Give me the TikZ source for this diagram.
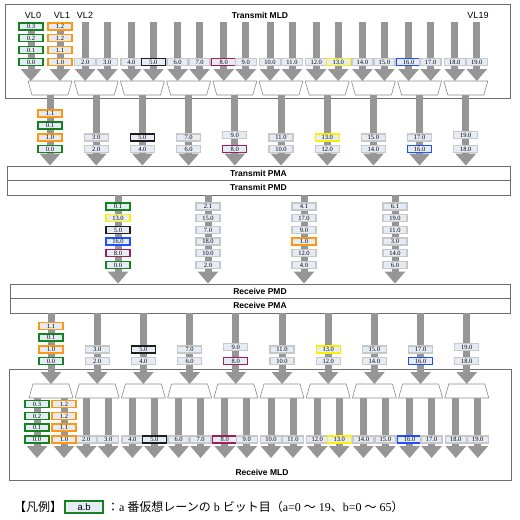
\documentclass[tikz,border=0pt]{standalone}
\usepackage{fontspec}
\setmainfont{Liberation Serif}
\setsansfont{Liberation Sans}
\newfontfamily\jpfont{Noto Sans CJK JP}
\usetikzlibrary{arrows.meta,positioning}
\definecolor{bargray}{RGB}{150,150,150}
\definecolor{boxfill}{RGB}{230,236,246}
\definecolor{laneedge}{RGB}{200,200,200}
\definecolor{framegray}{RGB}{110,110,110}
\definecolor{vlgreen}{RGB}{20,130,30}
\definecolor{vlorange}{RGB}{255,150,20}
\definecolor{vlyellow}{RGB}{250,240,0}
\definecolor{vlblue}{RGB}{30,80,255}
\definecolor{vlmaroon}{RGB}{160,30,90}
\definecolor{vlblack}{RGB}{30,30,30}

\begin{document}
\begin{tikzpicture}[x=1pt,y=-1pt,
            lane/.style={draw=bargray,line width=7pt,-{Triangle[width=20pt,length=12pt]}},
            lbox/.style={draw=#1,line width=1.3pt,fill=boxfill,minimum width=21pt,minimum height=7pt,inner sep=0pt,font=\fontsize{6.5}{7}\selectfont},
            cbox/.style={lbox=#1,minimum width=24pt},
            boxgray/.style={lbox=laneedge},
            boxgreen/.style={cbox=vlgreen},
            boxorange/.style={cbox=vlorange},
            boxyellow/.style={cbox=vlyellow},
            boxblue/.style={cbox=vlblue},
            boxmaroon/.style={cbox=vlmaroon},
            boxblack/.style={cbox=vlblack},
            layer/.style={draw=framegray,line width=0.9pt,fill=white,inner sep=0pt},
            ttl/.style={font=\sffamily\bfseries\fontsize{8.5}{9}\selectfont},
            vl/.style={font=\sffamily\fontsize{9}{10}\selectfont},
            muxline/.style={draw=framegray!80,line width=0.6pt,fill=white,line join=round}]
            \useasboundingbox (0,0) rectangle (520,520);

            \node[layer,minimum width=505pt,minimum height=94pt] (tmld) at (257.5,51) {};
            \node[ttl] (tmldt) at (260,15) {Transmit MLD};
            \node[layer,ttl,minimum width=503pt,minimum height=14pt] (tpma) at (258.5,173) {Transmit PMA};
            \node[layer,ttl,minimum width=503pt,minimum height=15pt] (tpmd) at (258.5,187.5) {Transmit PMD};
            \node[layer,ttl,minimum width=500pt,minimum height=14pt] (rpmd) at (260,291) {Receive PMD};
            \node[layer,ttl,minimum width=500pt,minimum height=15pt] (rpma) at (260,305.5) {Receive PMA};
            \node[layer,minimum width=502pt,minimum height=111pt] (rmld) at (260,424.5) {};
            \node[ttl] (rmldt) at (262,472) {Receive MLD};

            \node[vl] (vl0) at (33,15) {VL0};
            \node[vl] (vl1) at (62,15) {VL1};
            \node[vl] (vl2) at (85,15) {VL2};
            \node[vl] (vl19) at (478,15) {VL19};

            \coordinate (tin) at (0,81);
            \coordinate (tout) at (0,95);
            \coordinate (trow) at (0,62);
            \coordinate (rin) at (0,384);
            \coordinate (rend) at (0,458);
            \coordinate (rrow) at (0,439.5);

            % transmit MLD
            \coordinate (tl0) at (31,22);
            \coordinate (tl1) at (60,22);
            \foreach \i in {2,...,19}
                \coordinate (tl\i) at ({50+46.2*int(\i/2)+22*mod(\i,2)-11},22);
            \foreach \i in {0,...,19}
                \draw[lane] (tl\i) -- (tl\i |- tin);
            \foreach \k in {0,...,9}{
                \pgfmathsetmacro\cx{50+46.2*\k}
                \coordinate (tmux\k) at (\cx,88);
                \draw[lane] (tmux\k |- tout) -- (tmux\k |- tpma.north);
                \draw[muxline] (\cx-22,81) -- (\cx+22,81) -- (\cx+18,95) -- (\cx-18,95) -- cycle;
            }

            \foreach \i/\s in {2/boxgray,3/boxgray,4/boxgray,5/boxblack,6/boxgray,7/boxgray,8/boxmaroon,9/boxgray,10/boxgray,
                11/boxgray,12/boxgray,13/boxyellow,14/boxgray,15/boxgray,16/boxblue,17/boxgray,18/boxgray,19/boxgray}
                \node[\s] (tb\i) at (tl\i |- trow) {\i.0};
            \foreach \lab/\y [count=\j] in {0.3/26.5,0.2/38.3,0.1/50.2,0.0/62}
                \node[boxgreen] (tva\j) at (tl0 |- 0,\y) {\lab};
            \foreach \lab/\y [count=\j] in {1.2/26.5,1.2/38.3,1.1/50.2,1.0/62}
                \node[boxorange] (tvb\j) at (tl1 |- 0,\y) {\lab};

            \foreach \lab/\y/\s [count=\j] in {1.1/113.5/boxorange,0.1/125.5/boxgreen,1.0/137.5/boxorange,0.0/149/boxgreen}
                \node[\s] (tm\j) at (tmux0 |- 0,\y) {\lab};
            \foreach \k/\yu/\su/\sd in {1/137.5/boxgray/boxgray,2/137.5/boxblack/boxgray,3/137.5/boxgray/boxgray,
                4/135/boxgray/boxmaroon,5/137.5/boxgray/boxgray,6/137.5/boxyellow/boxgray,7/137.5/boxgray/boxgray,
                8/137.5/boxgray/boxblue,9/135/boxgray/boxgray}{
                \pgfmathtruncatemacro\up{2*\k+1}
                \pgfmathtruncatemacro\dn{2*\k}
                \node[\su,minimum width=24pt] (tmu\k) at (tmux\k |- 0,\yu) {\up.0};
                \node[\sd,minimum width=24pt] (tmd\k) at (tmux\k |- 0,149) {\dn.0};
            }

            % PMD to PMD
            \coordinate (cola) at (118,240);
            \coordinate (colb) at (208,240);
            \coordinate (colc) at (304,240);
            \coordinate (cold) at (395,240);
            \foreach \c in {cola,colb,colc,cold}
                \draw[lane] (\c |- tpmd.south) -- (\c |- rpmd.north);
            \foreach \c/\list in {cola/{0.1/boxgreen,13.0/boxyellow,5.0/boxblack,16.0/boxblue,8.0/boxmaroon,0.0/boxgreen},
                colb/{2.1/boxgray,15.0/boxgray,7.0/boxgray,18.0/boxgray,10.0/boxgray,2.0/boxgray},
                colc/{4.1/boxgray,17.0/boxgray,9.0/boxgray,1.0/boxorange,12.0/boxgray,4.0/boxgray},
                cold/{6.1/boxgray,19.0/boxgray,11.0/boxgray,3.0/boxgray,14.0/boxgray,6.0/boxgray}}{
                \foreach \lab/\s [count=\j from 0] in \list{
                    \pgfmathsetmacro\yy{206.5+11.7*\j}
                    \node[\s,minimum width=24pt] (\c\j) at (\c |- 0,\yy) {\lab};
                }
            }

            % receive MLD
            \coordinate (rl0) at (37,398);
            \coordinate (rl1) at (64,398);
            \foreach \i in {2,...,19}
                \coordinate (rl\i) at ({51+46.2*int(\i/2)+22*mod(\i,2)-11},398);
            \foreach \i in {0,...,19}
                \draw[lane] (rl\i) -- (rl\i |- rend);
            \foreach \k in {0,...,9}{
                \pgfmathsetmacro\cx{51+46.2*\k}
                \coordinate (rdmx\k) at (\cx,391);
                \draw[lane] (rdmx\k |- rpma.south) -- (rdmx\k |- rin);
                \draw[muxline] (\cx-18,384) -- (\cx+18,384) -- (\cx+22,398) -- (\cx-22,398) -- cycle;
            }

            \foreach \lab/\y/\s [count=\j] in {1.1/326/boxorange,0.1/337.5/boxgreen,1.0/349.5/boxorange,0.0/361/boxgreen}
                \node[\s] (rm\j) at (rdmx0 |- 0,\y) {\lab};
            \foreach \k/\yu/\su/\sd in {1/349.5/boxgray/boxgray,2/349.5/boxblack/boxgray,3/349.5/boxgray/boxgray,
                4/347/boxgray/boxmaroon,5/349.5/boxgray/boxgray,6/349.5/boxyellow/boxgray,7/349.5/boxgray/boxgray,
                8/349.5/boxgray/boxblue,9/347/boxgray/boxgray}{
                \pgfmathtruncatemacro\up{2*\k+1}
                \pgfmathtruncatemacro\dn{2*\k}
                \node[\su,minimum width=24pt] (rmu\k) at (rdmx\k |- 0,\yu) {\up.0};
                \node[\sd,minimum width=24pt] (rmd\k) at (rdmx\k |- 0,361) {\dn.0};
            }

            \foreach \i/\s in {2/boxgray,3/boxgray,4/boxgray,5/boxblack,6/boxgray,7/boxgray,8/boxmaroon,9/boxgray,10/boxgray,
                11/boxgray,12/boxgray,13/boxyellow,14/boxgray,15/boxgray,16/boxblue,17/boxgray,18/boxgray,19/boxgray}
                \node[\s] (rb\i) at (rl\i |- rrow) {\i.0};
            \foreach \lab/\y [count=\j] in {0.3/404,0.2/416,0.1/427.5,0.0/439.5}
                \node[boxgreen] (rva\j) at (rl0 |- 0,\y) {\lab};
            \foreach \lab/\y [count=\j] in {1.2/404,1.2/416,1.1/427.5,1.0/439.5}
                \node[boxorange] (rvb\j) at (rl1 |- 0,\y) {\lab};

            % legend
            \node[anchor=west,inner sep=0pt,font=\jpfont\fontsize{12}{14}\selectfont] (legk) at (14,507) {【凡例】};
            \node[right=2pt of legk,draw=vlgreen,line width=1.5pt,fill=boxfill,minimum width=38pt,minimum height=12pt,inner sep=0pt,
                font=\sffamily\fontsize{9.5}{10}\selectfont] (legb) {a.b};
            \node[right=3pt of legb,inner sep=0pt,font=\fontsize{12}{14}\selectfont] (legt)
                {{\jpfont ：}a {\jpfont 番仮想レーンの} b {\jpfont ビット目}{\jpfont （}a=0 {\jpfont ～} 19{\jpfont 、}b=0 {\jpfont ～} 65{\jpfont ）}};
\end{tikzpicture}
\end{document}
